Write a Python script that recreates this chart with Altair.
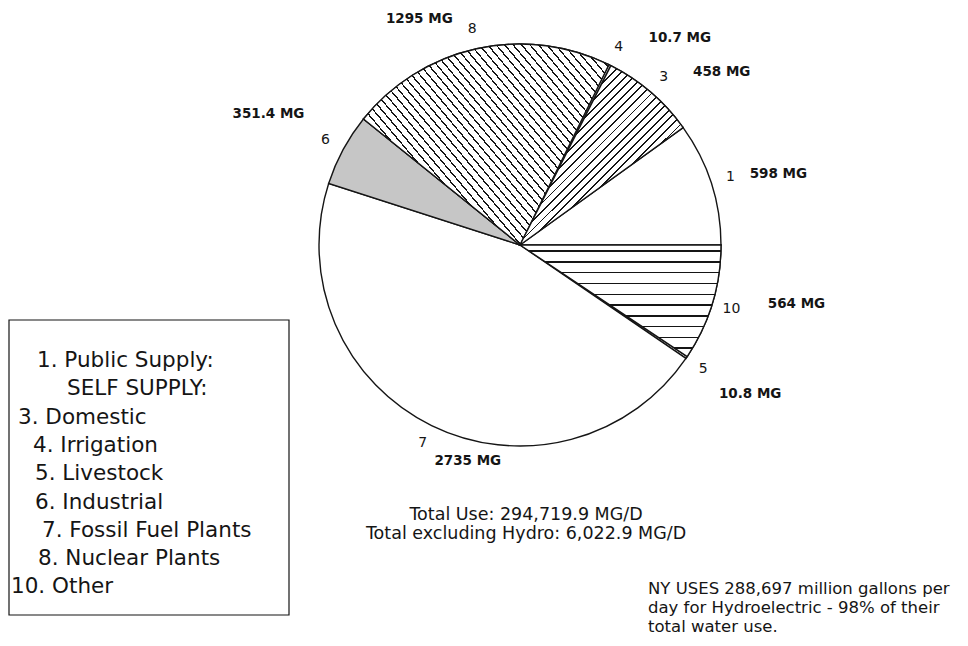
import math
import altair as alt
import pandas as pd

# ---------------- data ----------------
# slices in clockwise order starting at 3 o'clock
SLICE_IDS = [10, 5, 7, 6, 8, 4, 3, 1]
SLICE_NAMES = ["Other", "Livestock", "Fossil Fuel Plants", "Industrial",
               "Nuclear Plants", "Irrigation", "Domestic", "Public Supply"]
SLICE_VALUES = [564, 10.8, 2735, 351.4, 1295, 10.7, 458, 598]
VALUE_LABELS = ["564 MG", "10.8 MG", "2735 MG", "351.4 MG", "1295 MG",
                "10.7 MG", "458 MG", "598 MG"]

LEGEND_LINES = ["1. Public Supply:", "SELF SUPPLY:", "3. Domestic", "4. Irrigation",
                "5. Livestock", "6. Industrial", "7. Fossil Fuel Plants",
                "8. Nuclear Plants", "10. Other"]
TOTAL_LINES = ["Total Use: 294,719.9 MG/D", "Total excluding Hydro: 6,022.9 MG/D"]
NOTE_LINES = ["NY USES 288,697 million gallons per",
              "day for Hydroelectric - 98% of their",
              "total water use."]

# ---------------- layout / style ----------------
W, H = 952, 630
CX, CY, R = 512, 237, 201
LABEL_R = 221
INK = "#151515"
FONT = "DejaVu Sans"
TOTAL = sum(SLICE_VALUES)

VALUE_OFFSETS = {10: (65, -5), 5: (47, 25), 7: (45, 18), 6: (-57, -26),
                 8: (-53, -10), 4: (61, -9), 3: (58, -5), 1: (48, -3)}
LEGEND_X = [29, 59, 10, 25, 27, 27, 34, 30, 3]
LEGEND_Y0, LEGEND_DY = 353, 28.3


def stripes(period, width, phase, x1, y1, x2, y2):
    stops = [{"offset": 0.0, "color": "white"}]
    t = phase
    while t + width < 1.0:
        a, b = round(t, 5), round(t + width, 5)
        if a > 0:
            stops += [{"offset": a, "color": "white"}, {"offset": a, "color": INK},
                      {"offset": b, "color": INK}, {"offset": b, "color": "white"}]
        t += period
    stops.append({"offset": 1.0, "color": "white"})
    return {"gradient": "linear", "x1": x1, "y1": y1, "x2": x2, "y2": y2,
            "stops": stops}


HATCH = {
    8: stripes(1 / 49, 0.0042, 0.5 / 49, 0, 1, 1.145, 0.21),
    3: stripes(1 / 40, 0.0055, 0.5 / 40, 0, 0, 0.95, 1.045),
    10: stripes(0.0967, 0.0135, 0.048, 0, 0, 0, 1),
}

df = pd.DataFrame({
    "id": SLICE_IDS,
    "name": SLICE_NAMES,
    "value": SLICE_VALUES,
    "vlabel": VALUE_LABELS,
    "order": list(range(len(SLICE_IDS))),
})

theta_scale = alt.Scale(domain=[0, TOTAL], range=[math.pi / 2, math.pi / 2 + 2 * math.pi])

base = alt.Chart(df).transform_window(
    cum="sum(value)", sort=[alt.SortField("order")], frame=[None, 0]
).transform_calculate(
    start="datum.cum - datum.value", mid="datum.cum - datum.value / 2"
)

arc_enc = dict(
    theta=alt.Theta("start:Q", scale=theta_scale, stack=None),
    theta2="cum:Q",
    x=alt.value(CX), y=alt.value(CY),
)

layers = []
layers.append(
    base.mark_arc(radius=R, stroke=INK, strokeWidth=1.4).encode(
        fill=alt.condition(alt.datum.id == 6, alt.value("#c6c6c6"), alt.value("white")),
        **arc_enc,
    )
)
for sid, grad in HATCH.items():
    layers.append(
        base.transform_filter(alt.datum.id == sid)
        .mark_arc(radius=R, fill=grad, stroke=INK, strokeWidth=1.4)
        .encode(**arc_enc)
    )

# slice numbers
layers.append(
    base.mark_text(radius=LABEL_R, font=FONT, fontSize=14, color=INK,
                   align="center", baseline="middle").encode(
        theta=alt.Theta("mid:Q", scale=theta_scale, stack=None),
        text="id:N", x=alt.value(CX), y=alt.value(CY),
    )
)
# value labels
for sid, (dx, dy) in VALUE_OFFSETS.items():
    layers.append(
        base.transform_filter(alt.datum.id == sid)
        .mark_text(radius=LABEL_R, dx=dx, dy=dy, font=FONT, fontSize=13.5,
                   fontWeight="bold", color=INK, align="center", baseline="middle")
        .encode(theta=alt.Theta("mid:Q", scale=theta_scale, stack=None),
                text="vlabel:N", x=alt.value(CX), y=alt.value(CY))
    )

# legend box
box = alt.Chart(pd.DataFrame({"k": [0]})).mark_rect(
    filled=False, stroke=INK, strokeWidth=1.2
).encode(x=alt.value(1), x2=alt.value(281), y=alt.value(312), y2=alt.value(607))
layers.append(box)
for i, line in enumerate(LEGEND_LINES):
    layers.append(
        alt.Chart(pd.DataFrame({"t": [line]})).mark_text(
            font=FONT, fontSize=21.5, color=INK, align="left", baseline="middle"
        ).encode(text="t:N", x=alt.value(LEGEND_X[i]),
                 y=alt.value(LEGEND_Y0 + LEGEND_DY * i))
    )

for i, line in enumerate(TOTAL_LINES):
    layers.append(
        alt.Chart(pd.DataFrame({"t": [line]})).mark_text(
            font=FONT, fontSize=17.5, color=INK, align="center", baseline="middle"
        ).encode(text="t:N", x=alt.value(518), y=alt.value(507 + 19 * i))
    )

for i, line in enumerate(NOTE_LINES):
    layers.append(
        alt.Chart(pd.DataFrame({"t": [line]})).mark_text(
            font=FONT, fontSize=16.5, color=INK, align="left", baseline="middle"
        ).encode(text="t:N", x=alt.value(640), y=alt.value(581 + 19 * i))
    )

chart = alt.layer(*layers).properties(
    width=W, height=H, padding=0,
    autosize=alt.AutoSizeParams(type="none"),
    background="white",
).configure_view(strokeWidth=0)

chart.save("out.html", embed_options={"renderer": "svg", "actions": False})
